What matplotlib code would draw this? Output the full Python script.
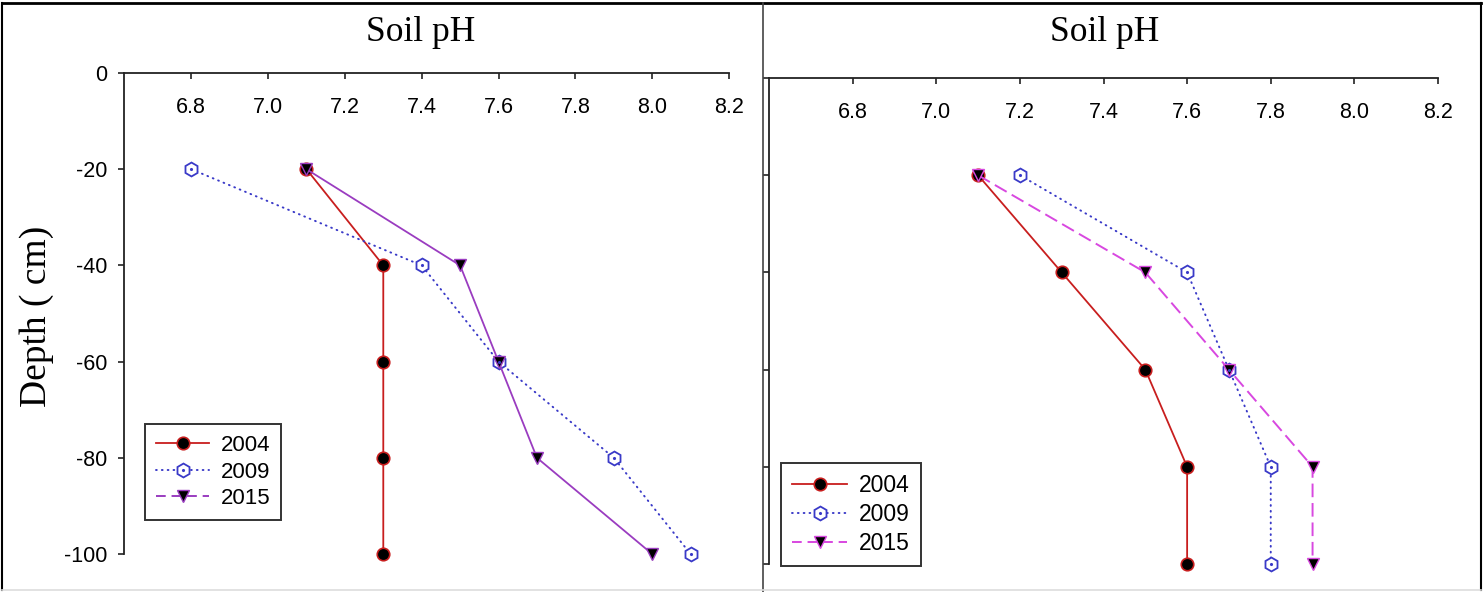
import matplotlib
matplotlib.use("Agg")
import matplotlib.pyplot as plt
from matplotlib.lines import Line2D
from matplotlib.legend_handler import HandlerTuple
from matplotlib import font_manager

plt.rcParams['axes.unicode_minus'] = False
names = {f.name for f in font_manager.fontManager.ttflist}
sans = 'Liberation Sans Narrow' if 'Liberation Sans Narrow' in names else 'Liberation Sans'
plt.rcParams['font.family'] = [sans, 'DejaVu Sans']

depth = [-20, -40, -60, -80, -100]
years = ['2004', '2009', '2015']

# left panel
ph_left_2004 = [7.1, 7.3, 7.3, 7.3, 7.3]
ph_left_2009 = [6.8, 7.4, 7.6, 7.9, 8.1]
ph_left_2015 = [7.1, 7.5, 7.6, 7.7, 8.0]

# right panel
ph_right_2004 = [7.1, 7.3, 7.5, 7.6, 7.6]
ph_right_2009 = [7.2, 7.6, 7.7, 7.8, 7.8]
ph_right_2015 = [7.1, 7.5, 7.7, 7.9, 7.9]

xticks = [6.8, 7.0, 7.2, 7.4, 7.6, 7.8, 8.0, 8.2]
yticks = [0, -20, -40, -60, -80, -100]

red = '#c81e1e'
blue = '#3a3ac8'
purple_solid = '#9a3cc0'
purple_dash = '#d848e0'
dotted = (0, (0.4, 2.6))

tick_size = 17 if sans.endswith('Narrow') else 15.5

W, H = 1484, 592
fig = plt.figure(figsize=(W / 100, H / 100), dpi=100)


def px_axes(x0, x1, ytop, ybot):
    return fig.add_axes([x0 / W, 1 - ybot / H, (x1 - x0) / W, (ybot - ytop) / H])


def style_axes(ax, xmin, show_ylabels):
    ax.set_xlim(xmin, 8.2)
    ax.set_ylim(-100, 0)
    ax.set_xticks(xticks)
    ax.set_xticklabels([f"{t:.1f}" for t in xticks])
    ax.set_yticks(yticks)
    if show_ylabels:
        ax.set_yticklabels([str(t) for t in yticks])
    else:
        ax.set_yticklabels([])
    ax.spines['top'].set_visible(False)
    ax.spines['right'].set_visible(False)
    ax.spines['bottom'].set_position(('axes', 1.0))
    for s in ['left', 'bottom']:
        ax.spines[s].set_linewidth(1.3)
        ax.spines[s].set_color('#222222')
    ax.tick_params(axis='x', direction='out', length=4.3, width=1.2,
                   color='#222222', pad=13, labelsize=tick_size)
    ax.tick_params(axis='y', direction='out', length=4.3, width=1.2,
                   color='#222222', pad=8, labelsize=tick_size)


def draw_series(ax, x04, x09, x15, ls15, c15):
    ax.plot(x04, depth, color=red, lw=1.3, marker='o', ms=9,
            mfc='black', mec=red, mew=1.2, clip_on=False, zorder=3)
    ax.plot(x09, depth, color=blue, lw=1.4, ls=dotted, dash_capstyle='round',
            marker='h', ms=10, mfc='white', mec=blue, mew=1.3,
            clip_on=False, zorder=3)
    ax.plot(x09, depth, ls='none', marker='.', ms=2.5, color=blue,
            clip_on=False, zorder=4)
    if ls15 == '--':
        ax.plot(x15, depth, color=c15, lw=1.4, ls=(0, (7, 3)),
                marker='v', ms=9, mfc='black', mec=c15, mew=1.0,
                clip_on=False, zorder=3)
    else:
        ax.plot(x15, depth, color=c15, lw=1.3, ls='-',
                marker='v', ms=9, mfc='black', mec=c15, mew=1.0,
                clip_on=False, zorder=3)


def add_legend(ax, c15, anchor, size):
    h04 = Line2D([], [], color=red, lw=1.3, marker='o', ms=9,
                 mfc='black', mec=red, mew=1.2)
    h09 = Line2D([], [], color=blue, lw=1.4, ls=dotted, dash_capstyle='round',
                 marker='h', ms=10, mfc='white', mec=blue, mew=1.3)
    h09d = Line2D([], [], ls='none', marker='.', ms=2.5, color=blue)
    h15 = Line2D([], [], color=c15, lw=1.4, ls=(0, (5, 3)),
                 marker='v', ms=9, mfc='black', mec=c15, mew=1.0)
    leg = ax.legend([h04, (h09, h09d), h15], years, loc='upper left',
                    bbox_to_anchor=anchor, fontsize=size, frameon=True,
                    fancybox=False, framealpha=1, edgecolor='#333333',
                    handlelength=2.4, handletextpad=0.5, labelspacing=0.25,
                    borderpad=0.5, borderaxespad=0,
                    handler_map={tuple: HandlerTuple(ndivide=1)})
    leg.get_frame().set_linewidth(1.4)
    leg.set_clip_on(False)


leg_size = tick_size + 0.5

# left panel
ax1 = px_axes(124, 729, 73, 554)
style_axes(ax1, 6.625, True)
draw_series(ax1, ph_left_2004, ph_left_2009, ph_left_2015, '-', purple_solid)
add_legend(ax1, purple_solid, (21 / 605, 1 - (424 - 73) / 481), leg_size)

# right panel
ax2 = px_axes(769, 1438, 78, 564)
style_axes(ax2, 6.6, False)
draw_series(ax2, ph_right_2004, ph_right_2009, ph_right_2015, '--', purple_dash)
add_legend(ax2, purple_dash, (12 / 669, 1 - (463 - 78) / 486), leg_size + 0.5)

# titles and y label
serif = ['Liberation Serif', 'DejaVu Serif']
fig.text(421 / W, 1 - 41 / H, 'Soil pH', ha='center', va='baseline',
         fontsize=25.5, family=serif)
fig.text(1105 / W, 1 - 41 / H, 'Soil pH', ha='center', va='baseline',
         fontsize=25.5, family=serif)
fig.text(37 / W, 1 - 316 / H, 'Depth ( cm)', ha='center', va='center',
         rotation=90, fontsize=27, family=serif)


# panel borders
def fig_line(x0, y0, x1, y1, color='black', lw=1.5):
    fig.add_artist(Line2D([x0 / W, x1 / W], [1 - y0 / H, 1 - y1 / H],
                          color=color, lw=lw))


fig_line(2, 3, 1481, 3, lw=2)
fig_line(2, 3, 2, 590, lw=1.5)
fig_line(1481, 3, 1481, 590, lw=1.5)
fig_line(763, 3, 763, 592, color='#444444', lw=1.2)
fig_line(2, 590, 1481, 590, color='#dddddd', lw=1.2)

fig.savefig('out.png', dpi=100)
